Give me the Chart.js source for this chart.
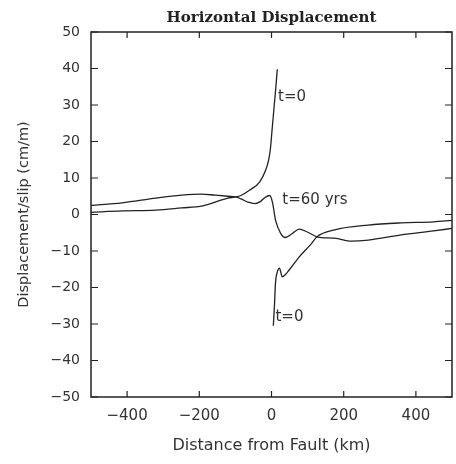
<!DOCTYPE html>
<html>
<head>
<meta charset="utf-8">
<script src="https://cdn.jsdelivr.net/npm/chart.js@4"></script>
<style>
  html, body { margin: 0; padding: 0; background: #fff; }
  #wrap { width: 456px; height: 464px; }
</style>
</head>
<body>
<div id="wrap"><canvas id="dispChart" width="456" height="464"></canvas></div>
<script>
// values (x in km, y in cm/m)
const xTickValues = [-400, -200, 0, 200, 400];
const yTickValues = [-50, -40, -30, -20, -10, 0, 10, 20, 30, 40, 50];

const t0LeftX = [-500, -414, -320, -249, -195, -156, -121, -99, -85, -60, -33, -16, -8, -3, 1, 5, 9, 13, 16];
const t0LeftY = [0.6, 1.0, 1.2, 1.8, 2.3, 3.4, 4.5, 4.8, 5.2, 6.7, 8.9, 12.2, 14.9, 18.0, 22.5, 27.0, 31.5, 36.0, 39.8];

const t60X = [-500, -414, -320, -249, -195, -156, -121, -99, -85, -65, -46, -30, -19, -5, 3, 11, 25, 38, 58, 77, 99, 126, 175, 222, 268, 359, 449, 500];
const t60Y = [2.5, 3.2, 4.5, 5.3, 5.6, 5.3, 5.0, 4.8, 4.3, 3.4, 3.0, 3.6, 4.6, 5.2, 3.2, -1.5, -5.1, -6.3, -5.2, -4.0, -4.8, -6.1, -6.5, -7.3, -7.0, -5.6, -4.5, -3.8];

const t0RightX = [5, 8, 11, 16, 22, 30, 38, 49, 77, 107, 126, 175, 268, 359, 449, 500];
const t0RightY = [-30.5, -25.3, -18.8, -15.8, -14.7, -17.1, -16.5, -15.2, -11.6, -8.4, -6.1, -4.2, -2.9, -2.3, -2.0, -1.6];

const curveNotes = ['t=0', 't=60 yrs', 't=0'];
const noteX = [18, 30, 11];
const noteY = [32.2, 4.0, -28];

const ink = '#222';
const textInk = '#333';

function toPoints(xs, ys) {
    return xs.map((x, i) => ({ x: x, y: ys[i] }));
}

function curve(label, xs, ys) {
    return {
        label: label,
        data: toPoints(xs, ys),
        borderColor: ink,
        borderWidth: 1.3,
        pointRadius: 0,
        fill: false,
        cubicInterpolationMode: 'monotone'
    };
}

// wide minus like the original plot
const tickText = v => String(v).replace('-', '\u2212');

// box around the plot with inward ticks, plus the curve labels
const framePlugin = {
    id: 'frame',
    afterDatasetsDraw(chart) {
        const { ctx, chartArea: a, scales: { x, y } } = chart;
        ctx.save();
        ctx.strokeStyle = ink;
        ctx.lineWidth = 1.5;
        ctx.strokeRect(a.left, a.top, a.right - a.left, a.bottom - a.top);
        ctx.lineWidth = 1.2;
        ctx.beginPath();
        x.ticks.forEach(t => {
            const px = x.getPixelForValue(t.value);
            ctx.moveTo(px, a.bottom); ctx.lineTo(px, a.bottom - 6);
            ctx.moveTo(px, a.top); ctx.lineTo(px, a.top + 6);
        });
        y.ticks.forEach(t => {
            const py = y.getPixelForValue(t.value);
            ctx.moveTo(a.left, py); ctx.lineTo(a.left + 7, py);
            ctx.moveTo(a.right, py); ctx.lineTo(a.right - 7, py);
        });
        ctx.stroke();

        ctx.fillStyle = textInk;
        ctx.font = '15px "DejaVu Sans"';
        ctx.textAlign = 'left';
        ctx.textBaseline = 'middle';
        curveNotes.forEach((txt, i) => {
            ctx.fillText(txt, x.getPixelForValue(noteX[i]), y.getPixelForValue(noteY[i]));
        });
        ctx.restore();
    }
};

new Chart(document.getElementById('dispChart'), {
    type: 'line',
    data: {
        datasets: [
            curve('t=0', t0LeftX, t0LeftY),
            curve('t=60 yrs', t60X, t60Y),
            curve('t=0', t0RightX, t0RightY)
        ]
    },
    options: {
        responsive: false,
        animation: false,
        layout: { padding: { left: 0, right: 4, top: 0, bottom: 0 } },
        scales: {
            x: {
                type: 'linear',
                min: -500,
                max: 500,
                afterBuildTicks: s => { s.ticks = xTickValues.map(v => ({ value: v })); },
                afterFit: s => { s.height = 67; },
                grid: { display: false, drawTicks: false },
                border: { display: false },
                ticks: {
                    color: textInk,
                    font: { family: 'DejaVu Sans', size: 15 },
                    padding: 10,
                    maxRotation: 0,
                    callback: tickText
                },
                title: {
                    display: true,
                    text: 'Distance from Fault (km)',
                    color: textInk,
                    font: { family: 'DejaVu Sans', size: 16 },
                    padding: { top: 0, bottom: 8.4 }
                }
            },
            y: {
                type: 'linear',
                min: -50,
                max: 50,
                afterBuildTicks: s => { s.ticks = yTickValues.map(v => ({ value: v })); },
                afterFit: s => { s.width = 91; },
                grid: { display: false, drawTicks: false },
                border: { display: false },
                ticks: {
                    color: textInk,
                    font: { family: 'DejaVu Sans', size: 14 },
                    padding: 11,
                    callback: tickText
                },
                title: {
                    display: true,
                    text: 'Displacement/slip (cm/m)',
                    color: textInk,
                    font: { family: 'DejaVu Sans', size: 14.5 },
                    padding: { top: 16, bottom: 0 }
                }
            }
        },
        plugins: {
            legend: { display: false },
            tooltip: { enabled: false },
            title: {
                display: true,
                fullSize: false,
                text: 'Horizontal Displacement',
                color: ink,
                font: { family: 'DejaVu Serif', size: 15, weight: 'bold' },
                padding: { top: 9, bottom: 5 }
            }
        }
    },
    plugins: [framePlugin]
});
</script>
</body>
</html>
